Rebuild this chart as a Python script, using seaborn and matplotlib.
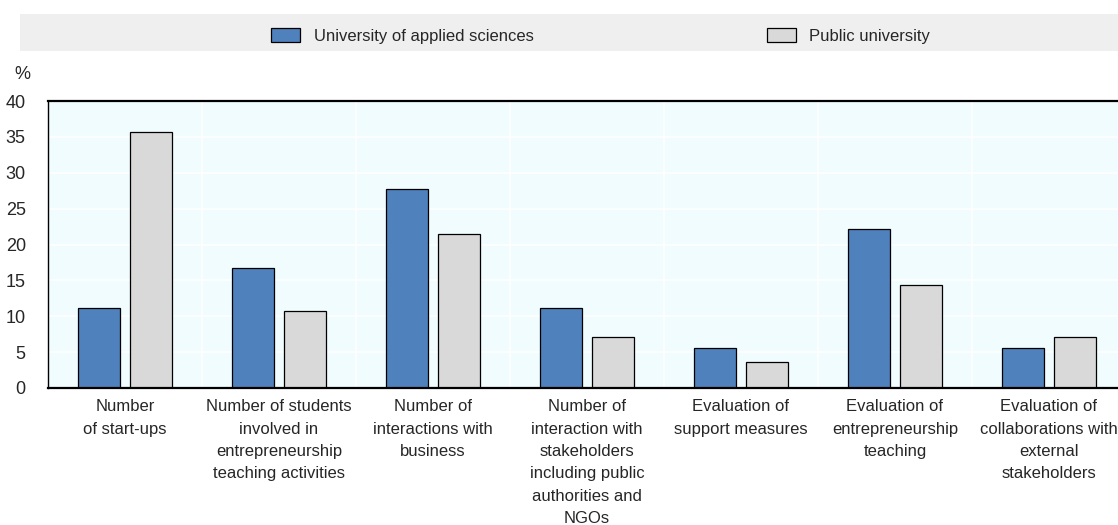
#!/usr/bin/env python3
"""Entrepreneurship indicators tracked, by type of higher education institution."""

import matplotlib
matplotlib.use("Agg")
import matplotlib.pyplot as plt
from matplotlib.patches import Rectangle
import pandas as pd
import seaborn as sns

# Data (%)
categories = [
    "Number\nof start-ups",
    "Number of students\ninvolved in\nentrepreneurship\nteaching activities",
    "Number of\ninteractions with\nbusiness",
    "Number of\ninteraction with\nstakeholders\nincluding public\nauthorities and\nNGOs",
    "Evaluation of\nsupport measures",
    "Evaluation of\nentrepreneurship\nteaching",
    "Evaluation of\ncollaborations with\nexternal\nstakeholders",
]
series_names = ["University of applied sciences", "Public university"]
applied_sciences = [11.1, 16.7, 27.8, 11.1, 5.6, 22.2, 5.6]
public_university = [35.7, 10.7, 21.4, 7.1, 3.6, 14.3, 7.1]
y_ticks = [0, 5, 10, 15, 20, 25, 30, 35, 40]

colors = ["#4F81BD", "#D9D9D9"]
bg_color = "#F0FCFE"

df = pd.DataFrame({
    "category": categories * 2,
    "group": [series_names[0]] * len(categories) + [series_names[1]] * len(categories),
    "value": applied_sciences + public_university,
})

sns.set_style("white")
plt.rcParams["font.family"] = ["Liberation Sans", "DejaVu Sans"]
plt.rcParams["font.size"] = 12

W, H = 1118, 525
fig = plt.figure(figsize=(W / 100, H / 100), dpi=100)
ax = fig.add_axes([48 / W, (H - 388) / H, 1078 / W, 287 / H])
ax.set_facecolor(bg_color)

sns.barplot(
    data=df, x="category", y="value", hue="group",
    palette=colors, saturation=1, width=0.675, gap=0.21,
    edgecolor="black", linewidth=0.9, ax=ax, legend=False,
)

ax.set_xlim(-0.5, len(categories) - 0.5)
ax.set_ylim(0, 40)
ax.set_yticks(y_ticks)
ax.set_xlabel("")
ax.set_ylabel("")

# category boundaries as minor ticks, used for the white vertical grid
ax.set_xticks([i + 0.5 for i in range(len(categories) - 1)], minor=True)
ax.tick_params(axis="x", which="major", length=0, pad=8, labelsize=12)
ax.tick_params(axis="x", which="minor", direction="in", length=5, width=1.2, color="black")
ax.tick_params(axis="y", length=0, pad=16, labelsize=13)
for lab in ax.get_xticklabels():
    lab.set_linespacing(1.62)
    lab.set_verticalalignment("top")

ax.set_axisbelow(True)
ax.grid(axis="y", color="white", linewidth=1.2)
ax.grid(axis="x", which="minor", color="white", linewidth=1.2)
ax.grid(axis="x", which="major", visible=False)

for side in ["top", "bottom"]:
    ax.spines[side].set_color("black")
    ax.spines[side].set_linewidth(1.6)
ax.spines["left"].set_color("black")
ax.spines["left"].set_linewidth(1.0)
ax.spines["right"].set_visible(False)

fig.text(22 / W, 1 - 75 / H, "%", ha="center", va="center", fontsize=13)

# legend band
fig.patches.append(Rectangle((20 / W, 1 - 51 / H), 1 - 20 / W, 37 / H,
                             transform=fig.transFigure, facecolor="#EFEFEF",
                             edgecolor="none", zorder=0))
handles = [Rectangle((0, 0), 1, 1, facecolor=c, edgecolor="black", linewidth=0.9)
           for c in colors]
fig.legend(handles, series_names, loc="center left", ncol=2,
           bbox_to_anchor=(271 / W, 1 - 36 / H), frameon=False,
           borderpad=0, borderaxespad=0,
           fontsize=12, handlelength=1.75, handleheight=0.85,
           handletextpad=0.8, columnspacing=14.0)

fig.savefig("out.png", dpi=100)
